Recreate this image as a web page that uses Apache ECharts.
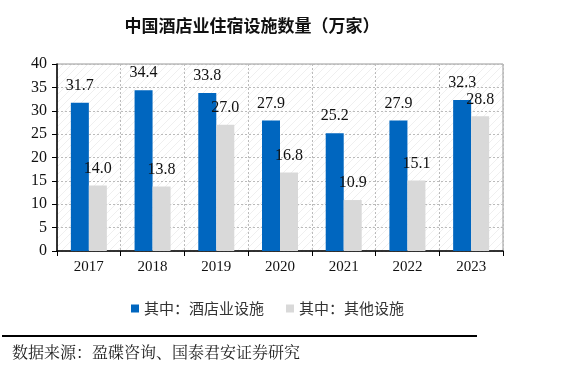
<!DOCTYPE html>
<html><head><meta charset="utf-8">
<script src="https://cdn.jsdelivr.net/npm/echarts@6/dist/echarts.min.js"></script>
<style>html,body{margin:0;padding:0;background:#fff;}#c{width:566px;height:368px;}</style>
</head><body><div id="c"></div>
<script>
const categories = ['2017','2018','2019','2020','2021','2022','2023'];
const hotelValues = [31.7, 34.4, 33.8, 27.9, 25.2, 27.9, 32.3];
const otherValues = [14.0, 13.8, 27.0, 16.8, 10.9, 15.1, 28.8];
const seriesNames = ['其中：酒店业设施', '其中：其他设施'];

// faint diagonal hatch pattern for plot background
const pc = document.createElement('canvas');
pc.width = 8; pc.height = 8;
const pctx = pc.getContext('2d');
pctx.fillStyle = '#ffffff'; pctx.fillRect(0,0,8,8);
pctx.strokeStyle = '#efefef'; pctx.lineWidth = 1;
pctx.beginPath(); pctx.moveTo(0,8); pctx.lineTo(8,0); pctx.stroke();

const chart = echarts.init(document.getElementById('c'), null, {renderer:'canvas'});
const serif = '"Liberation Serif","Times New Roman",serif';
const labelStyle = {show:true, position:'top', distance:9, fontFamily:serif, fontSize:16, color:'#111',
  formatter: p => p.value.toFixed(1)};
chart.setOption({
  animation:false,
  title:{text:'中国酒店业住宿设施数量（万家）', left:247, textAlign:'center', top:12,
    textStyle:{fontFamily:'"Noto Sans CJK SC"', fontSize:17, fontWeight:'bold', color:'#111'}},
  grid:{left:57, right:63, top:64, bottom:117, show:true, borderColor:'#999', borderWidth:1,
    backgroundColor:{image:pc, repeat:'repeat'}},
  legend:{top:296, left:126, itemWidth:8, itemHeight:8, itemGap:22, icon:'rect',
    textStyle:{fontFamily:'"Noto Sans CJK SC"', fontSize:15, color:'#333'}},
  xAxis:{type:'category', data:categories,
    axisLine:{lineStyle:{color:'#000', width:1.5}},
    axisTick:{show:true, length:5, lineStyle:{color:'#000'}},
    splitLine:{show:true, lineStyle:{color:'#bbb', type:[2,2]}},
    axisLabel:{fontFamily:serif, fontSize:15, color:'#111', margin:9}},
  yAxis:{type:'value', min:0, max:40, interval:5,
    axisLine:{show:true, lineStyle:{color:'#000', width:1.5}},
    axisTick:{show:true, length:5, lineStyle:{color:'#000'}},
    splitLine:{show:true, lineStyle:{color:'#bbb', type:[2,2]}},
    axisLabel:{fontFamily:serif, fontSize:16, color:'#111', margin:10}},
  series:[
    {name:seriesNames[0], type:'bar', data:hotelValues, barWidth:18, barGap:'0%',
      itemStyle:{color:'#0066BF'}, label:labelStyle},
    {name:seriesNames[1], type:'bar', data:otherValues, barWidth:18, barGap:'0%',
      itemStyle:{color:'#D9D9D9'}, label:labelStyle}
  ],
  graphic:[
    {type:'line', shape:{x1:2, y1:336, x2:477, y2:336}, style:{stroke:'#000', lineWidth:2}},
    {type:'text', left:12, top:344, style:{text:'数据来源：盈碟咨询、国泰君安证券研究',
      font:'16px "Noto Serif CJK SC","Noto Sans CJK SC"', fill:'#222'}}
  ]
});
</script></body></html>
